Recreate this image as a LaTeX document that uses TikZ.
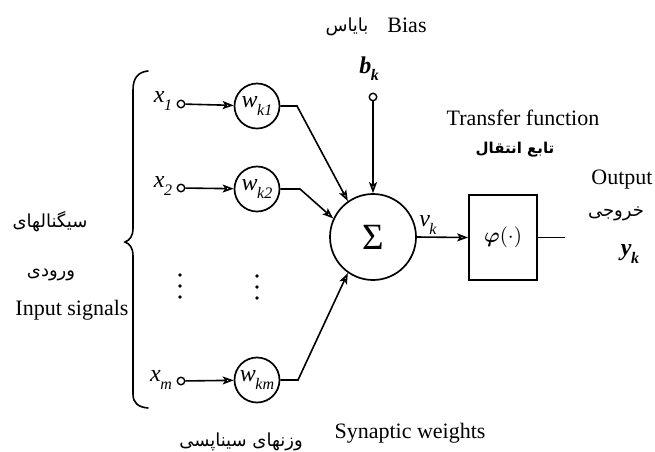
\documentclass[tikz,border=0pt]{standalone}
\usepackage{amsmath}
\usepackage[no-math]{fontspec}
\usepackage{graphicx}
\setmainfont{Liberation Serif}
\newfontfamily\fafont[Script=Arabic]{DejaVu Sans}
\TeXXeTstate=1
\usetikzlibrary{arrows.meta}
\newcommand\mysub[2]{\textit{#1}\kern-0.5pt\raisebox{-0.3em}{\fontsize{16}{16}\selectfont\textit{#2}}}
\tikzset{
  ln/.style={line width=1.6pt},
  arr/.style={ln,-{Stealth[open,length=11pt,width=8pt,inset=2.5pt]}},
  pin/.style={circle,draw,line width=1.4pt,inner sep=0pt,minimum size=7.5pt},
  wcirc/.style={circle,draw,line width=1.7pt,inner sep=0pt,minimum size=45pt,font=\fontsize{24}{24}\selectfont},
  mlab/.style={inner sep=0pt,font=\fontsize{24}{24}\selectfont},
  txt/.style={inner sep=0pt,font=\fontsize{22}{26}\selectfont},
  fa/.style={inner sep=0pt,font=\fafont\fontsize{18}{21}\selectfont},
  dot/.style={circle,fill,inner sep=0pt,minimum size=3.6pt}
}
\begin{document}
\begin{tikzpicture}[x=1pt,y=-1pt]
\useasboundingbox (0,0) rectangle (655,451);
% top labels
\node[fa] (biasfa) at (347,27) {\beginR بایاس\endR};
\node[txt] (biasen) at (407,25) {Bias};
% brace
\draw[ln,line cap=round] (148,71) .. controls (138,72) and (133,78) .. (133,90)
  -- (133,228) .. controls (133,236) and (130,240) .. (125,242)
  .. controls (130,244) and (133,248) .. (133,256)
  -- (133,394) .. controls (133,403) and (138,407) .. (148,408);
% inputs
\node[mlab] (x1) at (163,101) {\mysub{x}{1}};
\node[mlab] (x2) at (163,186) {\mysub{x}{2}};
\node[mlab] (xm) at (161,380) {\mysub{x}{m}};
\node[pin] (p1) at (181,104) {};
\node[pin] (p2) at (181,188) {};
\node[pin] (pm) at (181,381) {};
\node[wcirc] (w1) at (257,106) {\mysub{w}{k1}};
\node[wcirc] (w2) at (257,189) {\mysub{w}{k2}};
\node[wcirc] (wm) at (257,380) {\mysub{w}{km}};
\draw[arr] (p1) -- (w1);
\draw[arr] (p2) -- (w2);
\draw[arr] (pm) -- (wm);
% dots
\foreach \y [count=\i] in {275,286,297}{
  \node[dot] (da\i) at (180,\y) {};
  \node[dot] (db\i) at (257,\y+1) {};
}
% summing junction
\node[circle,draw,line width=1.7pt,minimum size=86pt,inner sep=0pt,font=\fontsize{37}{37}\selectfont] (sig) at (373,237) {Σ};
\coordinate (c1) at (297,106);
\coordinate (c2) at (300,189);
\coordinate (cm) at (298,380);
\draw[arr] (w1.east) -- (c1) -- (sig.125);
\draw[arr] (w2.east) -- (c2) -- (sig.155);
\draw[arr] (wm.east) -- (cm) -- (sig.235);
% bias
\node[mlab,font=\bfseries\fontsize{24}{24}\selectfont] (bk) at (369,69) {\mysub{b}{k}};
\node[pin] (pb) at (373,97) {};
\draw[arr] (pb) -- (sig.north);
% transfer function
\node[draw,line width=1.7pt,minimum width=68pt,minimum height=85pt,inner sep=0pt] (phi) at (503,237.5) {\scalebox{2.1}{$\boldsymbol{\varphi}(\cdot)$}};
\draw[arr] (sig.east) -- (phi.west);
\node[mlab] (vk) at (428,225) {\mysub{v}{k}};
\coordinate (out) at (565,237.5);
\draw[ln] (phi.east) -- (out);
\node[txt] (tf) at (523,118) {Transfer function};
\node[fa,font=\fafont\bfseries\fontsize{15}{18}\selectfont] (tffa) at (515,150) {\beginR تابع انتقال\endR};
\node[txt] (outen) at (622,180) {Output};
\node[fa] (outfa) at (616,214) {\beginR خروجی\endR};
\node[mlab,font=\bfseries\fontsize{24}{24}\selectfont] (yk) at (630,254) {\mysub{y}{k}};
% left labels
\node[fa] (in1) at (50,222) {\beginR سیگنالهای\endR};
\node[fa] (in2) at (51,275) {\beginR ورودی\endR};
\node[txt] (inen) at (72,310) {Input signals};
% bottom labels
\node[txt] (swen) at (410,433) {Synaptic weights};
\node[fa] (swfa) at (241,442) {\beginR وزنهای سیناپسی\endR};
\end{tikzpicture}
\end{document}
